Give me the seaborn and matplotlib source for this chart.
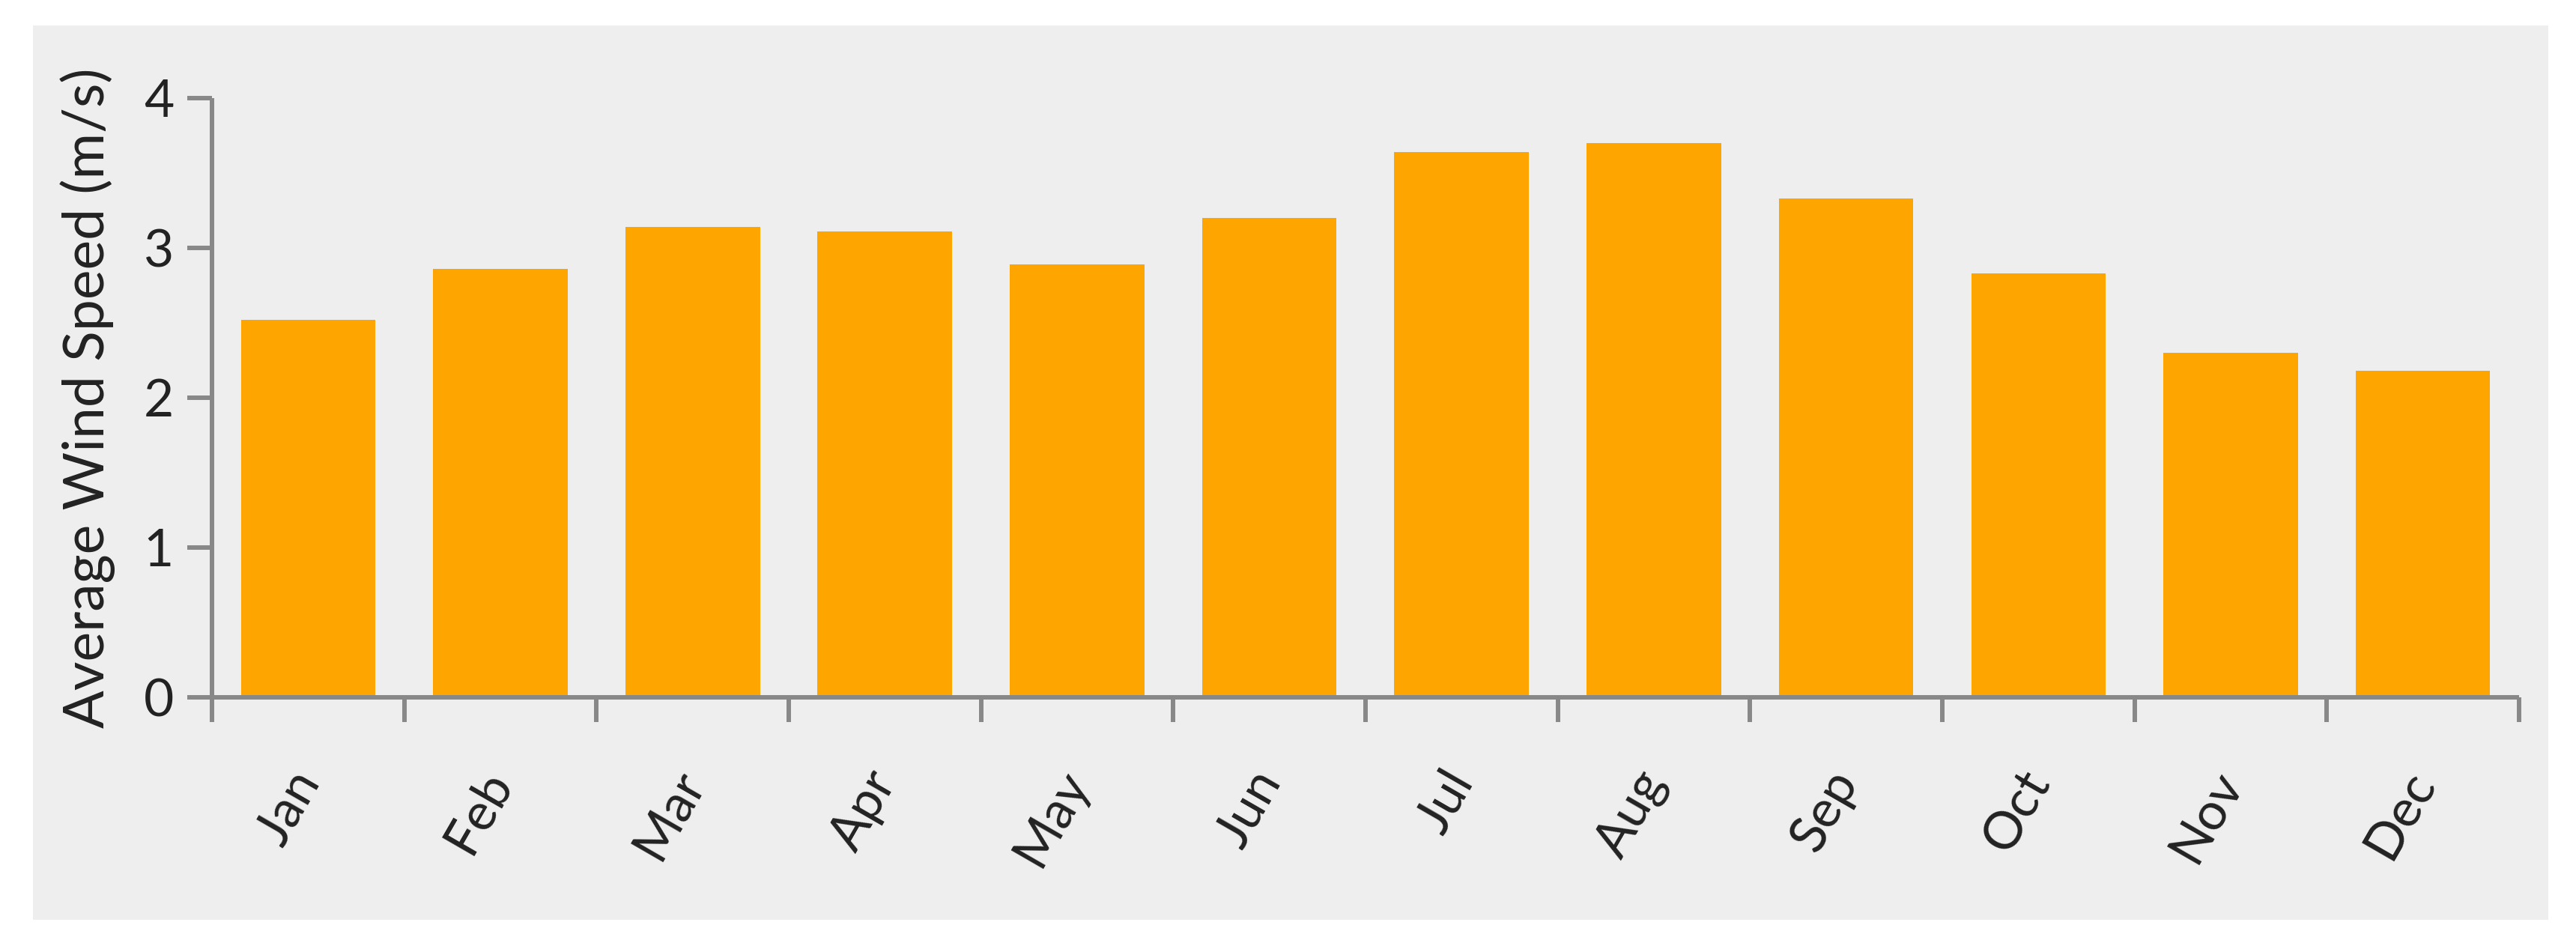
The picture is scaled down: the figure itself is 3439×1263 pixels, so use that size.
import matplotlib
matplotlib.use("Agg")
import matplotlib.pyplot as plt
from matplotlib.patches import Rectangle
import seaborn as sns
import pandas as pd

# ---- data ----
months = ["Jan", "Feb", "Mar", "Apr", "May", "Jun",
          "Jul", "Aug", "Sep", "Oct", "Nov", "Dec"]
wind_speed = [2.52, 2.86, 3.14, 3.11, 2.89, 3.20,
              3.64, 3.70, 3.33, 2.83, 2.30, 2.18]
y_ticks = [0, 1, 2, 3, 4]
y_label = "Average Wind Speed (m/s)"

sns.set_theme(style="white")
plt.rcParams["font.family"] = ["Lato", "DejaVu Sans"]

W, H = 3439, 1263
fig = plt.figure(figsize=(W / 100, H / 100), dpi=100, facecolor="white")

# grey panel behind the chart
fig.patches.append(Rectangle((44 / W, 1 - 1228 / H), (3402 - 44) / W, (1228 - 34) / H,
                             transform=fig.transFigure, facecolor="#eeeeee",
                             edgecolor="none", zorder=-10))

ax = fig.add_axes([283 / W, 1 - 931 / H, 3080 / W, 800 / H])
ax.set_zorder(5)
ax.set_facecolor("none")

df = pd.DataFrame({"month": months, "speed": wind_speed})
sns.barplot(data=df, x="month", y="speed", color="#ffa500", saturation=1,
            width=0.7, edgecolor="none", ax=ax)

axis_col = "#888888"
lw = 4.3
ax.set_xlim(-0.5, len(months) - 0.5)
ax.set_ylim(0, 4)
ax.set_yticks(y_ticks)
ax.set_yticklabels([str(v) for v in y_ticks])

for s in ["top", "right"]:
    ax.spines[s].set_visible(False)
for s in ["left", "bottom"]:
    ax.spines[s].set_color(axis_col)
    ax.spines[s].set_linewidth(lw)
    ax.spines[s].set_capstyle("butt")

text_col = "#222222"
ax.tick_params(axis="y", which="major", length=23.7, width=lw, color=axis_col,
               pad=13, labelsize=50, labelcolor=text_col, left=True)
# month labels centred, tick marks on category boundaries
ax.set_xticks(range(len(months)))
ax.set_xticklabels(months, rotation=60, ha="right", va="center",
                   rotation_mode="anchor")
ax.tick_params(axis="x", which="major", length=0, pad=74,
               labelsize=50, labelcolor=text_col)
ax.set_xticks([i - 0.5 for i in range(len(months) + 1)], minor=True)
ax.tick_params(axis="x", which="minor", length=23.7, width=lw, color=axis_col,
               bottom=True)

ax.set_xlabel("")
ax.set_ylabel(y_label, fontsize=54, color=text_col)
ax.yaxis.set_label_coords(-0.042, 0.5)

fig.savefig("out.png", dpi=100, facecolor="white")
